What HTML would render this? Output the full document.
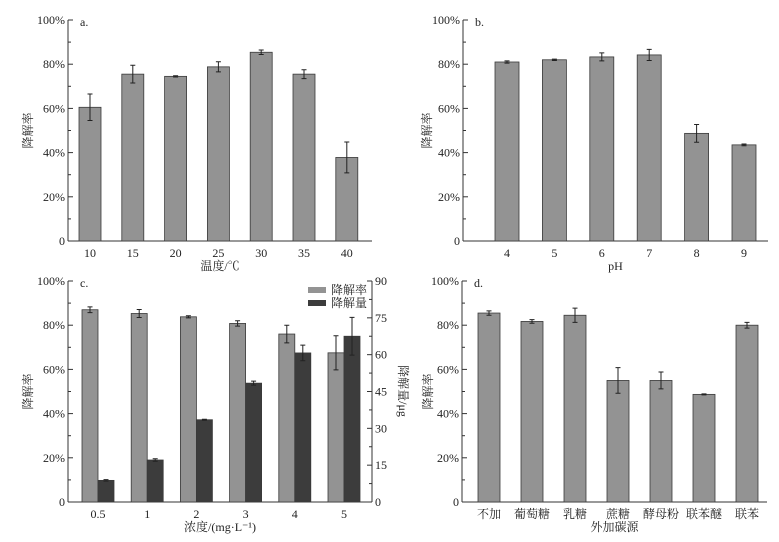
<!DOCTYPE html>
<html><head><meta charset="utf-8"><style>
html,body{margin:0;padding:0;background:#fff;}
svg{display:block;font-family:"Liberation Serif","Noto Serif CJK SC",serif;}
</style></head><body>
<svg id="c" width="779" height="542" xmlns="http://www.w3.org/2000/svg"></svg>
<script>
const aCats=["10","15","20","25","30","35","40"];
const aVals=[60.5,75.5,74.5,78.8,85.4,75.5,37.8];
const aErr=[6,4,0.3,2.3,1,2,7];
const bCats=["4","5","6","7","8","9"];
const bVals=[81,82,83.3,84.2,48.7,43.5];
const bErr=[0.5,0.3,1.8,2.5,4,0.4];
const cCats=["0.5","1","2","3","4","5"];
const cRate=[87,85.3,83.8,80.8,76,67.5];
const cRateErr=[1.3,1.8,0.5,1.2,4,7.7];
const cAmt=[8.8,17.1,33.5,48.4,60.7,67.5];
const cAmtErr=[0.3,0.5,0.2,0.8,3.2,7.7];
const dCats=["不加","葡萄糖","乳糖","蔗糖","酵母粉","联苯醚","联苯"];
const dVals=[85.5,81.7,84.5,55,55,48.7,80];
const dErr=[1,0.8,3.2,5.8,3.8,0.2,1.3];
const pctTicks=["0","20%","40%","60%","80%","100%"];
const amtTicks=["0","15","30","45","60","75","90"];

const svg=document.getElementById('c');
const NS="http://www.w3.org/2000/svg";
function mk(tag,attrs,name,parent){const e=document.createElementNS(NS,tag);for(const k in attrs)e.setAttribute(k,attrs[k]);


(parent||svg).appendChild(e);return e;}
function txt(x,y,s,name,anchor,size,extra){const t=mk('text',Object.assign({x:x,y:y,'font-size':size||12,'text-anchor':anchor||'middle',fill:'#222'},extra||{}),name);t.textContent=s;return t;}

function panel(P){
 const g=mk('g',{},P.id+'-panel');
 const ys=v=>P.bottom-(v/100)*(P.bottom-P.top);
 const xs=i=>P.x0+i*P.step;
 mk('line',{x1:P.left,y1:P.top,x2:P.left,y2:P.bottom,stroke:'#333','stroke-width':1},'y-axis',g);
 mk('line',{x1:P.left,y1:P.bottom,x2:P.right,y2:P.bottom,stroke:'#333','stroke-width':1},'x-axis',g);
 for(let i=0;i<=10;i++){const y=ys(i*10);mk('line',{x1:P.left,y1:y,x2:P.left+(i%2==0?5:3),y2:y,stroke:'#333'},'y-tick',g);}
 pctTicks.forEach((s,i)=>txt(P.left-3,ys(i*20)+4,s,'y-tick-label','end',12));
 txt(P.left+12,P.top+6,P.letter,'panel-label','start',12);
 const tx=P.left-P.titleOff;
 txt(tx,(P.top+P.bottom)/2,'降解率','y-axis-title','middle',12,{transform:`rotate(-90 ${tx} ${(P.top+P.bottom)/2})`});
 txt((P.left+P.right)/2,P.bottom+29,P.xtitle,'x-axis-title','middle',12);
 P.cats.forEach((c,i)=>txt(xs(i),P.bottom+16,c,'x-tick-label','middle',12));
 return {ys,xs,g};
}
function bar(g,cx,w,top,bot,fill,name){mk('rect',{x:cx-w/2,y:top,width:w,height:bot-top,fill:fill,stroke:'#3a3a3a','stroke-width':0.8},name,g);}
function err(g,cx,y1,y2,name){mk('path',{d:`M${cx},${y1}V${y2}M${cx-2.5},${y1}H${cx+2.5}M${cx-2.5},${y2}H${cx+2.5}`,stroke:'#222','stroke-width':1,fill:'none'},name,g);}

let P={id:'a',letter:'a.',left:68,right:372,top:20,bottom:241,x0:90,step:42.8,cats:aCats,xtitle:'温度/℃',titleOff:36};
let r=panel(P);
aVals.forEach((v,i)=>{bar(r.g,r.xs(i),22,r.ys(v),P.bottom,'#939393','bar-temp-'+aCats[i]);err(r.g,r.xs(i),r.ys(v+aErr[i]),r.ys(v-aErr[i]),'error-bar');});
P={id:'b',letter:'b.',left:463,right:768,top:20,bottom:241,x0:507,step:47.4,cats:bCats,xtitle:'pH',titleOff:32};
r=panel(P);
bVals.forEach((v,i)=>{bar(r.g,r.xs(i),24,r.ys(v),P.bottom,'#939393','bar-ph-'+bCats[i]);err(r.g,r.xs(i),r.ys(v+bErr[i]),r.ys(v-bErr[i]),'error-bar');});
P={id:'c',letter:'c.',left:68,right:372,top:281,bottom:502,x0:98,step:49.2,cats:cCats,xtitle:'浓度/(mg·L⁻¹)',titleOff:36};
r=panel(P);
const ya=v=>P.bottom-(v/90)*(P.bottom-P.top);
mk('line',{x1:P.right,y1:P.top,x2:P.right,y2:P.bottom,stroke:'#333'},'right-y-axis',r.g);
amtTicks.forEach((s,i)=>{const y=ya(i*15);mk('line',{x1:P.right,y1:y,x2:P.right-5,y2:y,stroke:'#333'},'right-y-tick',r.g);txt(P.right+3,y+4,s,'right-y-tick-label','start',12);});
for(let i=0;i<6;i++){const y=ya(i*15+7.5);mk('line',{x1:P.right,y1:y,x2:P.right-3,y2:y,stroke:'#333'},'right-y-minor-tick',r.g);}
txt(399,391,'降解量/μg','right-y-axis-title','middle',12,{transform:'rotate(90 399 391)'});
cRate.forEach((v,i)=>{const cx=r.xs(i);bar(r.g,cx-8,16,r.ys(v),P.bottom,'#939393','bar-rate-'+cCats[i]);err(r.g,cx-8,r.ys(v+cRateErr[i]),r.ys(v-cRateErr[i]),'error-bar');
 const a=cAmt[i];bar(r.g,cx+8,16,ya(a),P.bottom,'#3c3c3c','bar-amount-'+cCats[i]);err(r.g,cx+8,ya(a+cAmtErr[i]),ya(a-cAmtErr[i]),'error-bar');});
mk('rect',{x:308,y:287,width:18,height:6,fill:'#939393'},'legend-swatch-rate');
txt(331,294,'降解率','legend-entry-rate','start',12);
mk('rect',{x:308,y:300,width:18,height:6,fill:'#3c3c3c'},'legend-swatch-amount');
txt(331,307,'降解量','legend-entry-amount','start',12);
P={id:'d',letter:'d.',left:462,right:767,top:281,bottom:502,x0:489,step:43,cats:dCats,xtitle:'外加碳源',titleOff:30};
r=panel(P);
dVals.forEach((v,i)=>{bar(r.g,r.xs(i),22,r.ys(v),P.bottom,'#939393','bar-carbon-'+i);err(r.g,r.xs(i),r.ys(v+dErr[i]),r.ys(v-dErr[i]),'error-bar');});
</script>
</body></html>
